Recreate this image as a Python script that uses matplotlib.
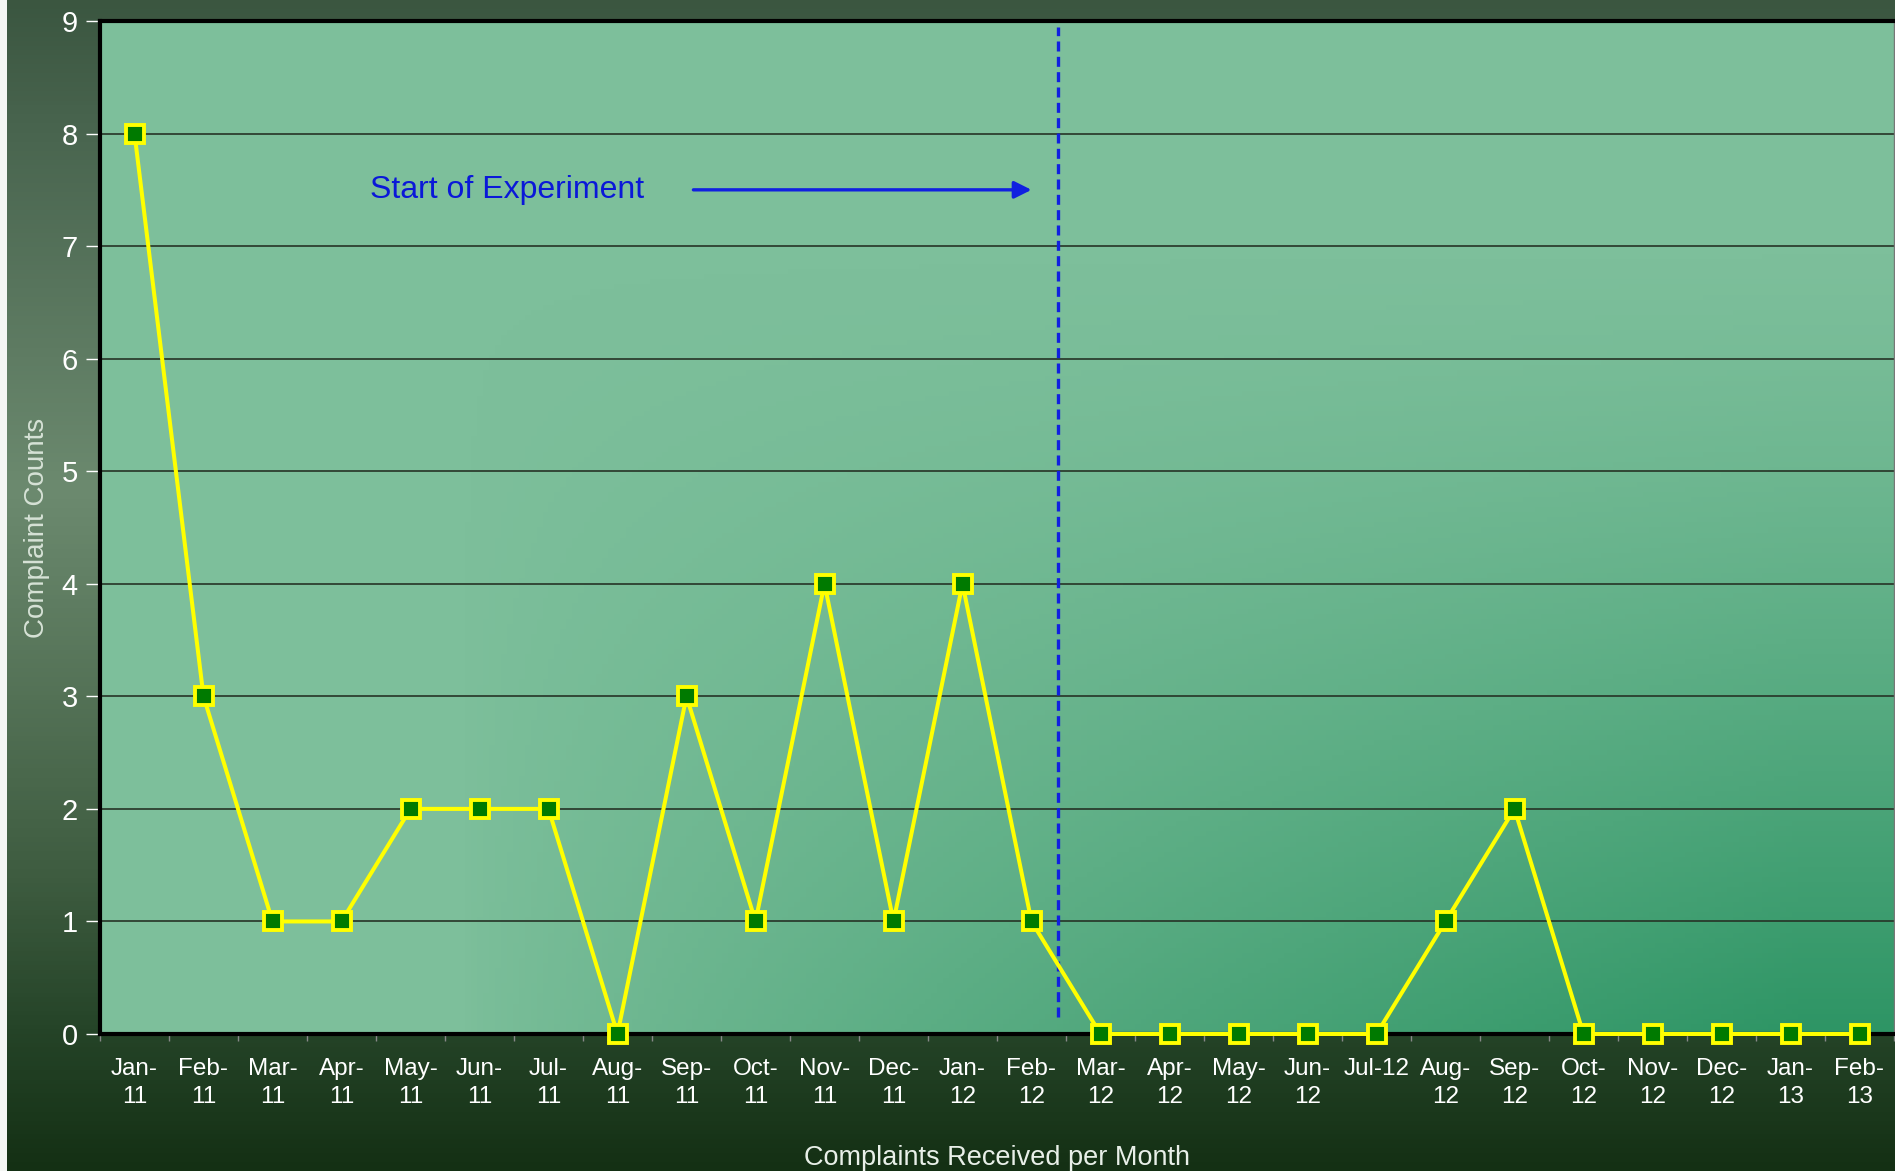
# -*- coding: utf-8 -*-
# Complaint counts per month, before / after the start of the experiment
import matplotlib
matplotlib.use('Agg')
import matplotlib.pyplot as plt
import numpy as np
from matplotlib.colors import LinearSegmentedColormap

plt.rcParams['font.family'] = ['Liberation Sans', 'DejaVu Sans']
narrow = ['Liberation Sans Narrow', 'Liberation Sans', 'DejaVu Sans']

# data
months = ['Jan-\n11', 'Feb-\n11', 'Mar-\n11', 'Apr-\n11', 'May-\n11', 'Jun-\n11',
          'Jul-\n11', 'Aug-\n11', 'Sep-\n11', 'Oct-\n11', 'Nov-\n11', 'Dec-\n11',
          'Jan-\n12', 'Feb-\n12', 'Mar-\n12', 'Apr-\n12', 'May-\n12', 'Jun-\n12',
          'Jul-12', 'Aug-\n12', 'Sep-\n12', 'Oct-\n12', 'Nov-\n12', 'Dec-\n12',
          'Jan-\n13', 'Feb-\n13']
complaints = [8, 3, 1, 1, 2, 2, 2, 0, 3, 1, 4, 1, 4, 1,
              0, 0, 0, 0, 0, 1, 2, 0, 0, 0, 0, 0]
y_ticks = list(range(0, 10))
experiment_start = 13.38   # dashed line sits between Feb-12 and Mar-12

fig = plt.figure(figsize=(18.95, 11.71), dpi=100)

# figure background: vertical dark-green gradient
bg = fig.add_axes([0, 0, 1, 1], zorder=-10)
bg_cmap = LinearSegmentedColormap.from_list(
    'bg', [(0.0, '#3b5640'), (0.12, '#4a6650'), (0.42, '#6c8a6f'),
           (0.75, '#3e5c40'), (0.88, '#254428'), (1.0, '#143014')])
grad = np.linspace(0, 1, 256).reshape(-1, 1)
bg.imshow(grad, cmap=bg_cmap, aspect='auto', extent=[0, 1, 0, 1])
bg.add_patch(plt.Rectangle((0, 0), 7 / 1895, 1, color='#f4f6f4', lw=0))
bg.set_xlim(0, 1)
bg.set_ylim(0, 1)
bg.axis('off')

ax = fig.add_axes([100 / 1895, 137 / 1171, 1794 / 1895, 1013 / 1171])
ax.patch.set_alpha(0)

# plot area: light green, darker towards the lower right
u, v = np.meshgrid(np.linspace(0, 1, 300), np.linspace(0, 1, 200))  # v=0 at top
shade = (np.clip((v - 0.22) / 0.78, 0, 1) ** 1.3
         * np.clip((u - 0.2) / 0.75, 0, 1) ** 0.8)
pa_cmap = LinearSegmentedColormap.from_list('pa', ['#7dbf9b', '#2e9565'])
ax.imshow(shade, cmap=pa_cmap, aspect='auto', extent=[0, 1, 0, 1],
          origin='upper', transform=ax.transAxes, zorder=0, vmin=0, vmax=1)

x = np.arange(len(months))
ax.set_xlim(-0.5, len(months) - 0.5)
ax.set_ylim(0, 9)

ax.set_yticks(y_ticks)
ax.yaxis.grid(True, color='#263326', lw=1.2)
ax.set_axisbelow(True)
for gl in ax.get_ygridlines():
    gl.set_zorder(1)

ax.plot(x, complaints, color='#ffff00', lw=2.9, marker='s', ms=13.5,
        mfc='#007a00', mec='#ffff00', mew=2.8, zorder=5, clip_on=False)

ax.vlines(experiment_start, 0.15, 8.95, colors='#1020e0', lw=2.4,
          linestyles=(0, (3, 1.6)), zorder=4)

ax.annotate('', xy=(13.0, 7.5), xytext=(8.1, 7.5),
            arrowprops=dict(arrowstyle='-|>', color='#1020e0', lw=2.4,
                            mutation_scale=26, shrinkA=0, shrinkB=0))
ax.text(3.42, 7.5, 'Start of Experiment', color='#0a18d8', fontsize=23,
        va='center', ha='left')

ax.set_xticks(x)
ax.set_xticklabels(months, fontsize=17.5, color='white', linespacing=1.35,
                   family=narrow)
ax.set_xticks(np.arange(-0.5, len(months)), minor=True)
ax.tick_params(axis='x', which='major', length=0, pad=17)
ax.tick_params(axis='x', which='minor', length=5, width=1, color='#888888')
ax.tick_params(axis='y', labelsize=21, colors='white', length=10, width=1,
               pad=6)
for tk in ax.yaxis.get_major_ticks():
    tk.tick1line.set_color('#333333')

for side in ['left', 'bottom', 'top']:
    ax.spines[side].set_color('black')
    ax.spines[side].set_linewidth(3)
ax.spines['right'].set_color('#777777')
ax.spines['right'].set_linewidth(1)

ax.set_xlabel('Complaints Received per Month', fontsize=19.5, color='#e8efe8',
              labelpad=27, family=narrow)
ax.set_ylabel('Complaint Counts', fontsize=20, color='#d6e2d6', labelpad=8)

fig.savefig('out.png', dpi=100)
